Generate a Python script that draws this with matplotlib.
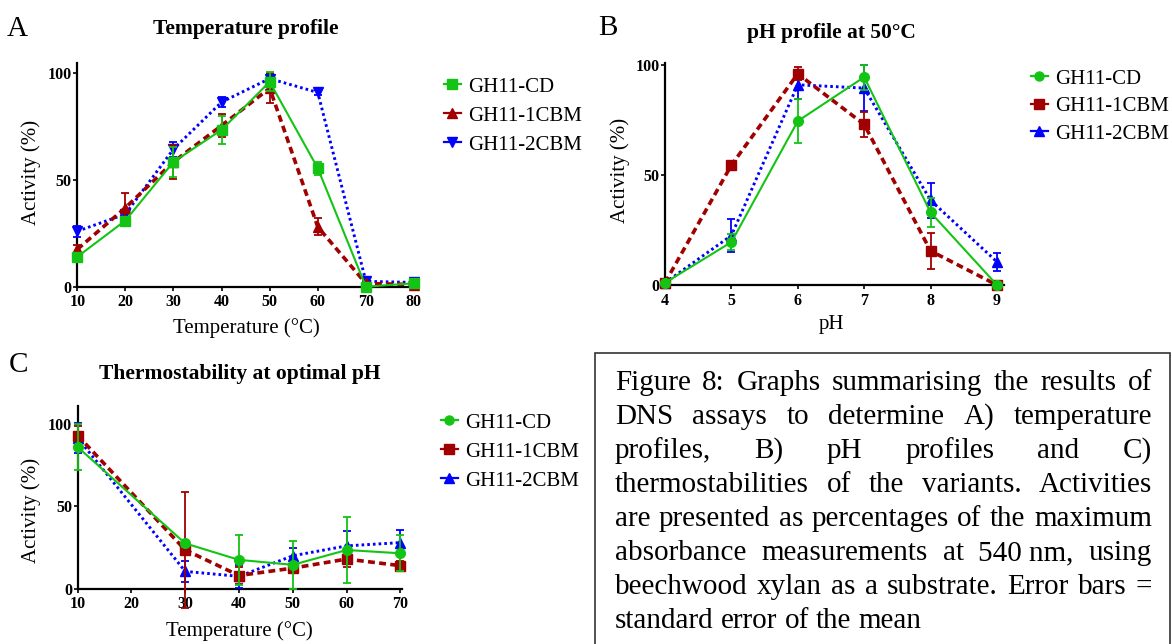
import matplotlib
matplotlib.use("Agg")
import matplotlib.pyplot as plt
from matplotlib.lines import Line2D
from matplotlib.patches import Rectangle

# ---- data -------------------------------------------------------------
series = ["GH11-CD", "GH11-1CBM", "GH11-2CBM"]

temp_a = [10, 20, 30, 40, 50, 60, 70, 80]
a_cd = [14, 31, 58.5, 73.5, 96, 55.5, 0, 1.6]
a_cd_err = [1.5, 1.5, 7, 6.5, 4.5, 3, 0.5, 0.5]
a_1cbm = [17.5, 37, 58.5, 75.5, 93, 28, 1.5, 1]
a_1cbm_err = [2, 7, 8, 5.5, 7, 4, 0.5, 0.5]
a_2cbm = [26, 34, 64.5, 86.5, 97.5, 91, 2.5, 2]
a_2cbm_err = [2.5, 1.5, 3.5, 2.5, 2, 1, 0.5, 0.5]

ph_b = [4, 5, 6, 7, 8, 9]
b_cd = [1, 19.5, 74.5, 94.5, 33, 0]
b_cd_err = [0.5, 3.8, 10, 5.7, 6.7, 0]
b_1cbm = [1, 54.5, 96, 73, 15.5, 0]
b_1cbm_err = [0.5, 1, 3, 5.7, 8.2, 0]
b_2cbm = [1, 22.5, 91, 89.5, 38.5, 10.5]
b_2cbm_err = [0.5, 7.5, 6.5, 10.5, 8, 4]

temp_c = [10, 30, 40, 50, 60, 70]
c_cd = [86, 27.5, 17.5, 14.5, 23.5, 21.5]
c_cd_err = [14, 2, 15, 14.5, 20.3, 11]
c_1cbm = [93, 23.5, 8, 12.5, 18, 14]
c_1cbm_err = [6, 35, 5, 2, 5, 3]
c_2cbm = [91.5, 10.5, 7.5, 20, 26, 28]
c_2cbm_err = [9, 6.5, 7, 5, 9, 7.5]

caption = [
    "Figure 8: Graphs summarising the results of",
    "DNS assays to determine A) temperature",
    "profiles, B) pH profiles and C)",
    "thermostabilities of the variants. Activities",
    "are presented as percentages of the maximum",
    "absorbance measurements at 540\u00a0nm, using",
    "beechwood xylan as a substrate. Error bars =",
    "standard error of the mean",
]

# ---- style ------------------------------------------------------------
W, H = 1172, 644
SERIF = "Liberation Serif"
plt.rcParams["font.family"] = SERIF

green, red, blue = "#14C414", "#A00000", "#0000FF"
styles = {
    "GH11-CD": dict(color=green, ls="-", lw=1.5),
    "GH11-1CBM": dict(color=red, ls=(0, (1.9, 1.2)), lw=2.6),
    "GH11-2CBM": dict(color=blue, ls=(0, (0.9, 1.05)), lw=2.1),
}

fig = plt.figure(figsize=(W / 100, H / 100), dpi=100)


def px(x, y):
    return x / W, 1 - y / H


def make_axes(left, right, top, bottom):
    return fig.add_axes([left / W, 1 - bottom / H, (right - left) / W, (bottom - top) / H])


def draw(ax, x, ys, errs, markers, sizes):
    for i in [2, 1, 0]:
        st = styles[series[i]]
        ax.errorbar(x, ys[i], yerr=errs[i], color=st["color"], ls=st["ls"], lw=st["lw"],
                    marker=markers[i], ms=sizes[i], mec=st["color"], mfc=st["color"],
                    elinewidth=1.3, capsize=3.2, capthick=1.3, clip_on=False, zorder=3 + (2 - i))


def style_axes(ax, xticks, xlim, ylim):
    ax.set_xlim(*xlim)
    ax.set_ylim(*ylim)
    ax.set_xticks(xticks)
    ax.set_yticks([0, 50, 100])
    for s in ["top", "right"]:
        ax.spines[s].set_visible(False)
    for s in ["left", "bottom"]:
        ax.spines[s].set_linewidth(1.6)
    ax.tick_params(direction="out", length=3, width=1.2, labelsize=11.5)
    ax.tick_params(axis="y", pad=1)
    ax.tick_params(axis="x", pad=2.5)
    for lab in ax.get_xticklabels() + ax.get_yticklabels():
        lab.set_fontweight("bold")
    ax.patch.set_alpha(0)


def legend(markers, sizes, x_text, y_top, spacing):
    handles = []
    for i, name in enumerate(series):
        st = styles[name]
        handles.append(Line2D([], [], color=st["color"], ls="-", lw=1.6,
                              marker=markers[i], ms=sizes[i] - 0.5))
    fig.legend(handles, series, loc="upper left", bbox_to_anchor=px(x_text - 23, y_top),
               frameon=False, fontsize=15, handlelength=0.8, handletextpad=0.35,
               borderpad=0, borderaxespad=0, labelspacing=spacing)


# ---- panel A ----------------------------------------------------------
axA = make_axes(77.3, 416.4, 62.6, 286.7)
mk_a = ["s", "^", "v"]
sz_a = [7, 7.5, 7.5]
draw(axA, temp_a, [a_cd, a_1cbm, a_2cbm], [a_cd_err, a_1cbm_err, a_2cbm_err], mk_a, sz_a)
style_axes(axA, temp_a, (10, 80.5), (0, 105))
fig.text(*px(246, 29), "Temperature profile", ha="center", va="center", fontsize=15.5, fontweight="bold")
fig.text(*px(17, 29), "A", ha="center", va="center", fontsize=21)
fig.text(*px(246, 328), "Temperature (\u00b0C)", ha="center", va="center", fontsize=15)
fig.text(*px(31, 172), "Activity (%)", ha="center", va="center", rotation=90, fontsize=15)
legend(mk_a, sz_a, 467, 77, 0.45)

# ---- panel B ----------------------------------------------------------
axB = make_axes(665, 1003.6, 62.8, 285)
mk_b = ["o", "s", "^"]
sz_b = [7, 7, 7.5]
draw(axB, ph_b, [b_cd, b_1cbm, b_2cbm], [b_cd_err, b_1cbm_err, b_2cbm_err], mk_b, sz_b)
style_axes(axB, ph_b, (4, 9.1), (0, 101))
fig.text(*px(831, 33), "pH profile at 50\u00b0C", ha="center", va="center", fontsize=15.5, fontweight="bold")
fig.text(*px(608, 28), "B", ha="center", va="center", fontsize=21)
fig.text(*px(831, 325), "pH", ha="center", va="center", fontsize=15)
fig.text(*px(620, 170), "Activity (%)", ha="center", va="center", rotation=90, fontsize=15)
legend(mk_b, sz_b, 1054, 69, 0.38)

# ---- panel C ----------------------------------------------------------
axC = make_axes(77.7, 402, 405.9, 588.7)
mk_c = ["o", "s", "^"]
sz_c = [7, 7, 7.5]
draw(axC, temp_c, [c_cd, c_1cbm, c_2cbm], [c_cd_err, c_1cbm_err, c_2cbm_err], mk_c, sz_c)
style_axes(axC, [10, 20, 30, 40, 50, 60, 70], (10, 70.3), (0, 111))
fig.text(*px(240, 374), "Thermostability at optimal pH", ha="center", va="center", fontsize=15.5, fontweight="bold")
fig.text(*px(19, 365), "C", ha="center", va="center", fontsize=21)
fig.text(*px(239, 631), "Temperature (\u00b0C)", ha="center", va="center", fontsize=15)
fig.text(*px(31, 510), "Activity (%)", ha="center", va="center", rotation=90, fontsize=15)
legend(mk_c, sz_c, 464, 413, 0.45)

# ---- caption box ------------------------------------------------------
fig.patches.append(Rectangle(px(594.5, 700), (1170 - 594.5) / W, (700 - 352.7) / H,
                             transform=fig.transFigure, fill=False, ec="#333333", lw=1.2))

renderer = fig.canvas.get_renderer()
x0, x1 = 615, 1152
tmp = [fig.text(0, 0, s, fontsize=21) for s in ("a a", "aa")]
space = tmp[0].get_window_extent(renderer).width - tmp[1].get_window_extent(renderer).width
for t in tmp:
    t.remove()
for k, line in enumerate(caption):
    y = 390 + k * 34
    words = line.split(" ")
    texts = [fig.text(0, 0, w, fontsize=21, va="baseline", ha="left") for w in words]
    widths = [t.get_window_extent(renderer).width for t in texts]
    if k == len(caption) - 1:
        gap = space
    else:
        gap = (x1 - x0 - sum(widths)) / (len(words) - 1)
    x = x0
    for t, w in zip(texts, widths):
        t.set_position(px(x, y))
        x += w + gap

fig.savefig("out.png", dpi=100)
